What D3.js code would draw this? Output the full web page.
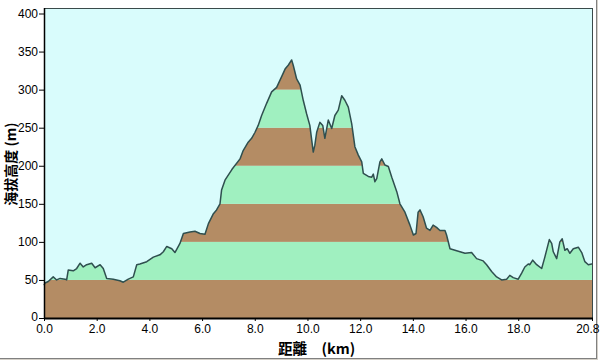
<!DOCTYPE html>
<html>
<head>
<meta charset="utf-8">
<script src="https://cdn.jsdelivr.net/npm/d3@7"></script>
<style>
  html, body { margin: 0; padding: 0; background: #ffffff; }
  svg { display: block; }
</style>
</head>
<body>
<svg id="chart" width="600" height="361"></svg>
<script>
// distance (km)
const distanceKm = [0.00,0.04,0.16,0.35,0.48,0.61,0.80,0.86,0.92,1.11,1.24,1.37,1.49,1.62,1.81,1.94,2.13,2.25,2.38,2.63,2.88,3.01,3.20,3.39,3.52,3.64,3.90,4.15,4.40,4.53,4.66,4.85,4.97,5.16,5.29,5.54,5.73,5.92,6.11,6.24,6.43,6.55,6.68,6.74,6.87,7.13,7.44,7.56,7.75,7.88,8.01,8.13,8.26,8.45,8.64,8.83,9.02,9.15,9.27,9.40,9.46,9.59,9.72,9.84,9.97,10.09,10.22,10.28,10.35,10.47,10.58,10.66,10.79,10.92,11.04,11.17,11.30,11.42,11.55,11.68,11.80,11.93,12.06,12.12,12.31,12.44,12.50,12.56,12.63,12.75,12.82,12.94,13.07,13.20,13.39,13.51,13.70,13.89,14.02,14.12,14.20,14.27,14.39,14.52,14.65,14.77,14.90,15.03,15.22,15.28,15.41,15.60,15.98,16.23,16.42,16.67,16.80,16.99,17.18,17.37,17.56,17.68,17.81,18.00,18.13,18.25,18.38,18.44,18.55,18.70,18.89,19.01,19.18,19.27,19.33,19.46,19.58,19.67,19.77,19.86,19.96,20.09,20.28,20.41,20.53,20.66,20.79,20.80];
// elevation (m)
const elevationM = [43,46,48,54,50,52,51,50,63,62,65,72,67,70,72,66,70,65,52,51,49,47,51,54,70,71,74,80,83,87,94,91,86,98,111,113,114,111,110,124,137,142,150,168,181,195,209,220,231,236,244,253,266,282,297,303,317,327,332,339,332,314,306,286,268,253,218,227,244,257,253,236,260,249,266,273,292,286,277,255,225,214,205,190,186,185,189,179,183,205,209,201,199,185,166,150,139,122,109,111,139,142,133,118,115,122,119,115,115,109,91,89,85,86,78,75,70,61,54,50,51,56,53,51,59,67,71,70,76,70,65,80,103,98,87,78,100,104,89,91,85,91,93,86,74,70,71,71];

const yTickValues = [0,50,100,150,200,250,300,350,400];
const xTickValues = [0,2,4,6,8,10,12,14,16,18,20.8];
const bandEdges = [0,50,100,150,200,250,300,350,400];
const bandColors = ["#b48c64","#a0f0c0"];

const xTitle = "距離\u3000(km)";
const yTitle = "海拔高度 (m)";

const svg = d3.select("#chart");
const L = 44, R = 592, T = 8, B = 318;

const x = d3.scaleLinear().domain([0, 20.8]).range([L, R]);
const y = d3.scaleLinear().domain([0, 400]).range([B, 13.5]);

const data = distanceKm.map((d, i) => ({ d, e: elevationM[i] }));

// outer frame
svg.append("rect").attr("x", 0).attr("y", 0).attr("width", 600).attr("height", 361).attr("fill", "#ffffff");
svg.append("line").attr("x1", 596.5).attr("x2", 596.5).attr("y1", 0).attr("y2", 358.5).attr("stroke", "#808080");
svg.append("line").attr("x1", 597.5).attr("x2", 597.5).attr("y1", 0).attr("y2", 359.5).attr("stroke", "#d4d0c8");
svg.append("line").attr("x1", 0).attr("x2", 597).attr("y1", 358.5).attr("y2", 358.5).attr("stroke", "#808080");
svg.append("line").attr("x1", 0).attr("x2", 598).attr("y1", 359.5).attr("y2", 359.5).attr("stroke", "#d4d0c8");

// plot background
svg.append("rect").attr("x", L).attr("y", T).attr("width", R - L).attr("height", B - T).attr("fill", "#d9fcfc");

// clip by area
const area = d3.area().x(p => x(p.d)).y0(y(0)).y1(p => y(p.e));
svg.append("clipPath").attr("id", "terrain").append("path").attr("d", area(data));

const bands = svg.append("g").attr("clip-path", "url(#terrain)");
for (let i = 0; i < bandEdges.length - 1; i++) {
  bands.append("rect")
    .attr("x", L).attr("width", R - L)
    .attr("y", y(bandEdges[i + 1])).attr("height", y(bandEdges[i]) - y(bandEdges[i + 1]))
    .attr("fill", bandColors[i % 2]);
}

// profile line
svg.append("path")
  .attr("d", d3.line().x(p => x(p.d)).y(p => y(p.e))(data))
  .attr("fill", "none").attr("stroke", "#2f4f4f").attr("stroke-width", 1.5).attr("stroke-linejoin", "round");

// plot frame
svg.append("line").attr("x1", L).attr("x2", R + 0.5).attr("y1", T + 0.5).attr("y2", T + 0.5).attr("stroke", "#3a4a4a");
svg.append("line").attr("x1", R + 0.5).attr("x2", R + 0.5).attr("y1", T).attr("y2", B).attr("stroke", "#3a4a4a");

// axes
const fontFam = "'Liberation Sans', Arial, sans-serif";
const yAxis = d3.axisLeft(y).tickValues(yTickValues).tickSize(5).tickSizeOuter(0).tickPadding(1).tickFormat(d3.format("d"));
const gy = svg.append("g").attr("transform", `translate(${L},0)`).call(yAxis);
gy.select(".domain").remove();
gy.selectAll(".tick line").attr("stroke", "#000");
gy.selectAll(".tick text").attr("font-family", fontFam).attr("font-size", 12).attr("fill", "#000");
gy.selectAll(".tick text").filter(d => d === 0).attr("dy", "0.2em");
svg.append("line").attr("x1", L + 0.5).attr("x2", L + 0.5).attr("y1", T).attr("y2", B + 1).attr("stroke", "#000").attr("stroke-width", 1.5);

const xAxis = d3.axisBottom(x).tickValues(xTickValues).tickSize(3).tickSizeOuter(0).tickPadding(3).tickFormat(d => d.toFixed(1));
const gx = svg.append("g").attr("transform", `translate(0,${B})`).call(xAxis);
gx.select(".domain").remove();
gx.selectAll(".tick line").attr("stroke", "#000");
gx.selectAll(".tick text").attr("font-family", fontFam).attr("font-size", 12).attr("fill", "#000");
gx.selectAll(".tick text").filter(d => d === 20.8).attr("text-anchor", "end").attr("dx", "7");
svg.append("line").attr("x1", L).attr("x2", R + 1).attr("y1", B + 0.5).attr("y2", B + 0.5).attr("stroke", "#000").attr("stroke-width", 2);

// titles
const cjk = "'Noto Sans CJK TC', 'Noto Sans CJK SC', sans-serif";
svg.append("text").attr("x", 278).attr("y", 354).attr("font-family", cjk).attr("font-weight", "bold").attr("font-size", 14.5).attr("fill", "#000").text(xTitle);
svg.append("text").attr("transform", "translate(16,164) rotate(-90)").attr("text-anchor", "middle")
  .attr("font-family", cjk).attr("font-weight", "bold").attr("font-size", 14).attr("fill", "#000").text(yTitle);
</script>
</body>
</html>
